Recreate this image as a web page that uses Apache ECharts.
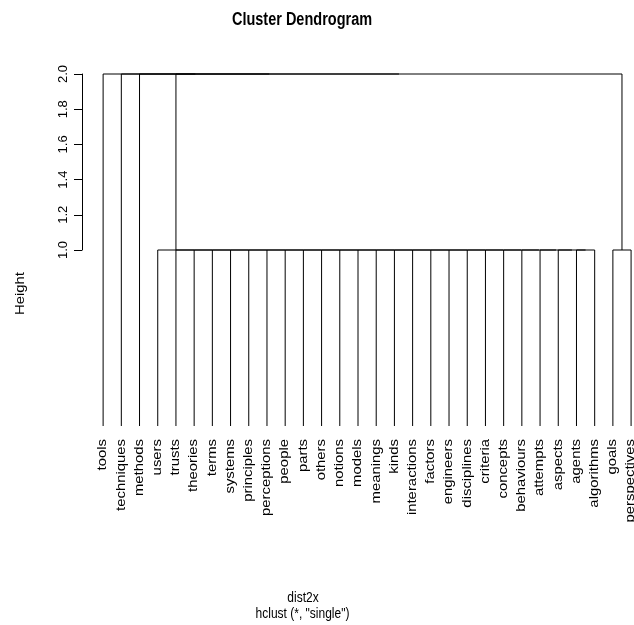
<!DOCTYPE html>
<html>
<head>
<meta charset="utf-8">
<script src="https://cdn.jsdelivr.net/npm/echarts@6/dist/echarts.min.js"></script>
<style>html,body{margin:0;padding:0;background:#fff}#c{width:634px;height:625px}</style>
</head>
<body>
<div id="c"></div>
<script>
// Leaf labels in dendrogram display order (left to right)
var leaves = ["tools","techniques","methods","users","trusts","theories","terms","systems","principles","perceptions","people","parts","others","notions","models","meanings","kinds","interactions","factors","engineers","disciplines","criteria","concepts","behaviours","attempts","aspects","agents","algorithms","goals","perspectives"];
// hclust-style merge matrix: negative = leaf (1-based display position), positive = earlier merge step
var mergeLeft  = [-27,-26,-25,-24,-23,-22,-21,-20,-19,-18,-17,-16,-15,-14,-13,-12,-11,-10,-9,-8,-7,-6,-5,-4,-29,24,-3,-2,-1];
var mergeRight = [-28,1,2,3,4,5,6,7,8,9,10,11,12,13,14,15,16,17,18,19,20,21,22,23,-30,25,26,27,28];
var mergeHeight = [1,1,1,1,1,1,1,1,1,1,1,1,1,1,1,1,1,1,1,1,1,1,1,1,1,2,2,2,2];
var yTicks = [1.0,1.2,1.4,1.6,1.8,2.0];
var titleText = "Cluster Dendrogram";
var yName = "Height";
var sub1 = "dist2x";
var sub2 = 'hclust (*, "single")';

var FONT = "'Liberation Sans', Arial, Helvetica, sans-serif";
var SY = 1.24; // vertical text stretch of the reference

// Build U-shaped segments from the merge matrix
var nodeX = [], nodeY = [];
function childPos(c){
  if (c < 0) return [-c, 0];
  return [nodeX[c-1], nodeY[c-1]];
}
var segs = [];
for (var i = 0; i < mergeLeft.length; i++){
  var a = childPos(mergeLeft[i]), b = childPos(mergeRight[i]);
  var h = mergeHeight[i];
  nodeX.push((a[0]+b[0])/2); nodeY.push(h);
  segs.push([a[0], a[1], b[0], b[1], h]);
}
var leafData = leaves.map(function(n, k){ return [k+1, 0, n]; });

var chart = echarts.init(document.getElementById('c'), null, {renderer:'canvas'});
chart.setOption({
  animation: false,
  backgroundColor: '#fff',
  grid: [
    {left: 82, top: 74, right: 0, height: 352},
    {left: 82, top: 74, width: 10, height: 176}
  ],
  xAxis: [
    {type:'value', gridIndex:0, min:-0.16, max:30.16, show:false},
    {type:'value', gridIndex:1, min:0, max:1, show:false}
  ],
  yAxis: [
    {type:'value', gridIndex:0, min:0, max:2, show:false},
    {type:'value', gridIndex:1, min:1, max:2, interval:0.2,
     axisLine:{show:true, lineStyle:{color:'#000', width:1}},
     axisTick:{show:true, length:8, lineStyle:{color:'#000'}},
     splitLine:{show:false},
     axisLabel:{rotate:90, margin:12, color:'#000', fontSize:13, fontFamily:FONT,
       formatter:function(v){ return v.toFixed(1); }}
    }
  ],
  graphic: [
    {type:'text', x:302, y:20, scaleY:SY, style:{text:titleText, font:'bold 14.5px '+FONT, fill:'#000', align:'center', verticalAlign:'middle'}},
    {type:'text', x:21, y:293.5, rotation:Math.PI/2, scaleX:SY, style:{text:yName, font:'12px '+FONT, fill:'#000', align:'center', verticalAlign:'middle'}},
    {type:'text', x:303, y:598, scaleY:SY, style:{text:sub1, font:'12px '+FONT, fill:'#000', align:'center', verticalAlign:'middle'}},
    {type:'text', x:302.5, y:613.5, scaleY:SY, style:{text:sub2, font:'12px '+FONT, fill:'#000', align:'center', verticalAlign:'middle'}}
  ],
  series: [
    {
      type:'custom', xAxisIndex:0, yAxisIndex:0, clip:false,
      data: segs,
      renderItem: function(params, api){
        var p1 = api.coord([api.value(0), api.value(1)]);
        var p2 = api.coord([api.value(0), api.value(4)]);
        var p3 = api.coord([api.value(2), api.value(4)]);
        var p4 = api.coord([api.value(2), api.value(3)]);
        return {type:'polyline', shape:{points:[p1,p2,p3,p4]}, style:{stroke:'#000', lineWidth:1, fill:null}};
      }
    },
    {
      type:'custom', xAxisIndex:0, yAxisIndex:0, clip:false,
      data: leafData,
      renderItem: function(params, api){
        var p = api.coord([api.value(0), api.value(1)]);
        return {type:'text', x:p[0], y:p[1]+13, rotation:Math.PI/2, scaleX:SY,
          style:{text: leaves[params.dataIndex], font:'12px '+FONT, fill:'#000', align:'right', verticalAlign:'middle'}};
      }
    }
  ]
});
</script>
</body>
</html>
